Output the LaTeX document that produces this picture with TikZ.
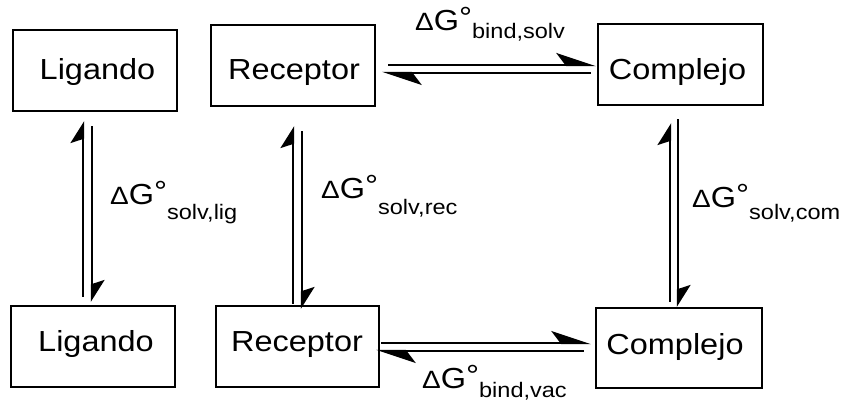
\documentclass[tikz,border=0pt]{standalone}
\usepackage{fontspec}
\setmainfont{Liberation Sans}
\usetikzlibrary{arrows.meta}
\newcommand\boxtxt[1]{\scalebox{1.12}[1]{\fontsize{29}{30}\selectfont #1}}
\newcommand\dGlab[2]{\scalebox{1.12}[1]{{\fontsize{25}{25}\selectfont Δ}{\fontsize{29}{29}\selectfont G\raisebox{3pt}{°}}\raisebox{-#2pt}{\fontsize{21}{21}\selectfont #1}}}
\tikzset{
  box/.style={draw, line width=2.2pt, minimum width=164pt, minimum height=81pt, inner sep=0pt},
  txt/.style={anchor=base, inner sep=0pt},
  lab/.style={anchor=base west, inner sep=0pt},
  hArr/.style={line width=2.4pt, -{Stealth[harpoon, length=36pt, width=24pt, inset=9pt]}},
  vArr/.style={line width=2.4pt, -{Stealth[harpoon, length=20pt, width=25pt, inset=4pt]}},
}
\begin{document}
\begin{tikzpicture}[x=1pt, y=1pt]
\useasboundingbox (0,0) rectangle (845,-409);
% boxes
\node[box] (lig1) at (95,-70.5) {};
\node[box] (rec1) at (293,-65.5) {};
\node[box, minimum width=165pt] (com1) at (680.5,-64.5) {};
\node[box] (lig2) at (93,-346.5) {};
\node[box, minimum width=163pt] (rec2) at (297.5,-346.5) {};
\node[box, minimum width=166pt, minimum height=80pt] (com2) at (679,-348) {};
% texts
\node[txt] (t1) at (97.5,-80) {\boxtxt{Ligando}};
\node[txt] (t2) at (294,-80) {\boxtxt{Receptor}};
\node[txt] (t3) at (677.5,-80) {\boxtxt{Complejo}};
\node[txt] (t4) at (96,-351.5) {\boxtxt{Ligando}};
\node[txt] (t5) at (297,-351) {\boxtxt{Receptor}};
\node[txt] (t6) at (675,-354) {\boxtxt{Complejo}};
% horizontal equilibria
\draw[hArr] ([xshift=12pt,yshift=0.5pt]rec1.east) -- ([xshift=-1pt,yshift=0.5pt]rec1.east -| com1.west);
\draw[hArr] ([xshift=-6pt,yshift=-7.5pt]rec1.east -| com1.west) -- ([xshift=6pt,yshift=-7.5pt]rec1.east);
\draw[hArr] ([xshift=1pt,yshift=3.5pt]rec2.east) -- ([xshift=-4pt,yshift=3.5pt]rec2.east -| com2.west);
\draw[hArr] ([xshift=-11pt,yshift=-4.5pt]rec2.east -| com2.west) -- ([xshift=-4pt,yshift=-4.5pt]rec2.east);
% vertical equilibria
\draw[vArr] ([xshift=-10pt,yshift=8pt]lig2.north) -- ([xshift=-10pt,yshift=-9pt]lig2.north |- lig1.south);
\draw[vArr] ([xshift=-1pt,yshift=-14pt]lig2.north |- lig1.south) -- ([xshift=-1pt,yshift=3pt]lig2.north);
\draw[vArr] ([xshift=-4.5pt,yshift=1pt]rec2.north) -- ([xshift=-4.5pt,yshift=-19pt]rec2.north |- rec1.south);
\draw[vArr] ([xshift=4.5pt,yshift=-24pt]rec2.north |- rec1.south) -- ([xshift=4.5pt,yshift=-4pt]rec2.north);
\draw[vArr] ([xshift=-9pt,yshift=5pt]com2.north) -- ([xshift=-9pt,yshift=-17pt]com2.north |- com1.south);
\draw[vArr] ([xshift=-1pt,yshift=-13pt]com2.north |- com1.south) -- ([xshift=-1pt,yshift=0pt]com2.north);
% labels
\node[lab] (l1) at (415,-31) {\dGlab{bind,solv}{8}};
\node[lab] (l2) at (110,-204) {\dGlab{solv,lig}{15}};
\node[lab] (l3) at (321,-198) {\dGlab{solv,rec}{16}};
\node[lab] (l4) at (692,-207) {\dGlab{solv,com}{12}};
\node[lab] (l5) at (422,-388) {\dGlab{bind,vac}{9}};
\end{tikzpicture}
\end{document}
